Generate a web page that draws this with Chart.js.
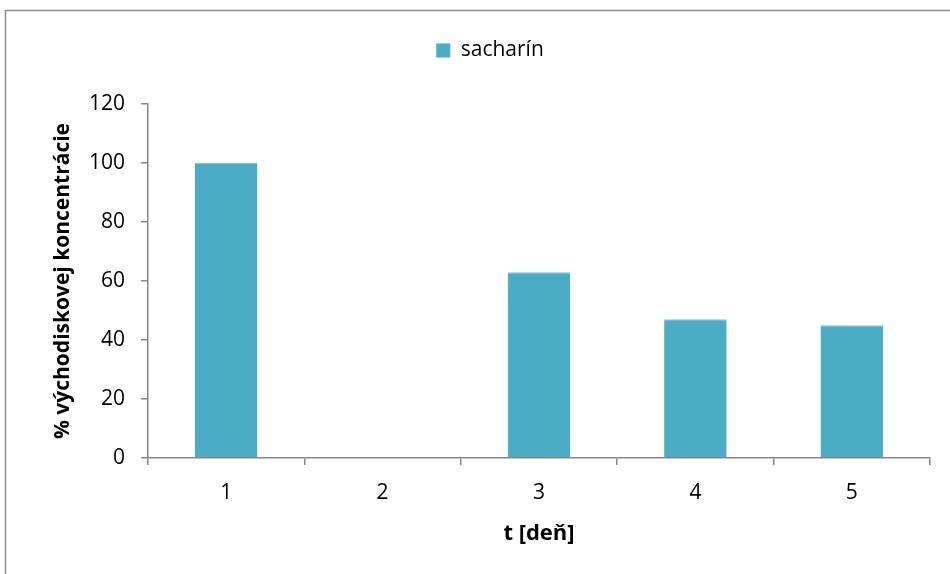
<!DOCTYPE html>
<html>
<head>
<meta charset="utf-8">
<script src="https://cdn.jsdelivr.net/npm/chart.js@4/dist/chart.umd.min.js"></script>
<style>
  html, body { margin: 0; padding: 0; background: #fff; }
  #wrap { width: 950px; height: 574px; position: relative; }
</style>
</head>
<body>
<div id="wrap"><canvas id="c" width="950" height="574"></canvas></div>
<script>
// Relative concentration of saccharin per day
const days = ['1', '2', '3', '4', '5'];
const sacharin = [100, 0, 63, 47, 45];
const yTicks = [0, 20, 40, 60, 80, 100, 120];

const seriesName = 'sacharín';
const xTitle = 't [deň]';
const yTitle = '% východiskovej koncentrácie';

const FONT = '"Open Sans", "Liberation Sans", sans-serif';
const AXIS_GREY = '#868686';

// Outer frame of the chart object
const framePlugin = {
  id: 'frame',
  beforeDraw(chart) {
    const ctx = chart.ctx;
    ctx.save();
    ctx.fillStyle = '#fff';
    ctx.fillRect(0, 0, chart.width, chart.height);
    ctx.strokeStyle = '#8a8a8a';
    ctx.lineWidth = 1.5;
    ctx.strokeRect(5.5, 10.5, 1200, 1200);
    ctx.restore();
  }
};

// Centre the legend over the whole frame rather than the layout box
const legendShift = {
  id: 'legendShift',
  afterLayout(chart) {
    if (chart.legend) {
      chart.legend.left += 50;
    }
  }
};

new Chart(document.getElementById('c'), {
  type: 'bar',
  data: {
    labels: days,
    datasets: [{
      label: seriesName,
      data: sacharin,
      backgroundColor: '#4BACC6',
      borderColor: '#7FC6D8',
      borderWidth: { top: 1, left: 0, right: 0, bottom: 0 },
      barPercentage: 0.8,
      categoryPercentage: 0.5
    }]
  },
  options: {
    responsive: false,
    animation: false,
    devicePixelRatio: 1,
    layout: { padding: { left: 0, right: 20, top: 32, bottom: 0 } },
    plugins: {
      legend: {
        display: true,
        position: 'top',
        labels: {
          boxWidth: 14,
          boxHeight: 14,
          padding: 8,
          color: '#000',
          font: { family: FONT, size: 21 }
        }
      },
      // spacer between legend and plot area
      subtitle: {
        display: true,
        text: '',
        weight: 500,
        font: { size: 10 },
        padding: { top: 0, bottom: 21 }
      },
      tooltip: { enabled: false }
    },
    scales: {
      x: {
        offset: true,
        afterFit(scale) { scale.height = 116; },
        grid: {
          offset: true,
          drawOnChartArea: false,
          drawTicks: true,
          tickLength: 7,
          color: AXIS_GREY,
          lineWidth: 1.5
        },
        border: { display: true, color: AXIS_GREY, width: 1.5 },
        ticks: {
          color: '#000',
          padding: 15,
          font: { family: FONT, size: 21 }
        },
        title: {
          display: true,
          text: xTitle,
          color: '#000',
          font: { family: FONT, size: 22, weight: 'bold' },
          padding: { top: 0, bottom: 27 }
        }
      },
      y: {
        min: 0,
        max: 120,
        afterFit(scale) { scale.width = 148; },
        afterBuildTicks(scale) { scale.ticks = yTicks.map(v => ({ value: v })); },
        grid: {
          drawOnChartArea: false,
          drawTicks: true,
          tickLength: 7,
          color: AXIS_GREY,
          lineWidth: 1.5
        },
        border: { display: true, color: AXIS_GREY, width: 1.5 },
        ticks: {
          color: '#000',
          padding: 16,
          font: { family: FONT, size: 21 }
        },
        title: {
          display: true,
          text: yTitle,
          color: '#000',
          font: { family: FONT, size: 21, weight: 'bold' },
          padding: { top: 50, bottom: 0 }
        }
      }
    }
  },
  plugins: [framePlugin, legendShift]
});
</script>
</body>
</html>
